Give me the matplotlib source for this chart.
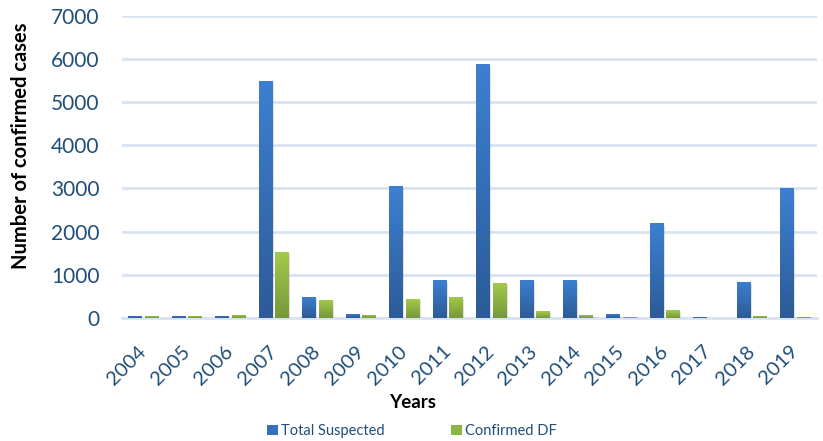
import matplotlib
matplotlib.use("Agg")
import matplotlib.pyplot as plt
import matplotlib.patheffects as pe
from matplotlib.colors import LinearSegmentedColormap
from matplotlib.patches import Patch
import numpy as np

years = ["2004", "2005", "2006", "2007", "2008", "2009", "2010", "2011",
         "2012", "2013", "2014", "2015", "2016", "2017", "2018", "2019"]
total_suspected = [50, 50, 50, 5500, 490, 100, 3050, 880,
                   5890, 880, 880, 95, 2190, 25, 840, 3000]
confirmed_df = [50, 50, 70, 1520, 420, 70, 440, 490,
                815, 160, 70, 25, 185, 0, 50, 25]

TXT = "#1F4E79"
GRID = "#D7E3F1"

plt.rcParams["font.family"] = ["Lato", "DejaVu Sans"]

fig = plt.figure(figsize=(8.23, 4.41), dpi=100)
ax = fig.add_axes([0.148, 0.279, 0.845, 0.685])

x = np.arange(len(years))
w = 0.32
off = 0.19

blue_cmap = LinearSegmentedColormap.from_list("b", ["#2C5B97", "#3D80D1"])
green_cmap = LinearSegmentedColormap.from_list("g", ["#76983A", "#A4CA4B"])
grad = np.linspace(0, 1, 256).reshape(-1, 1)

shadow = [pe.SimplePatchShadow(offset=(0.8, -1.5), shadow_rgbFace="#888888", alpha=0.25), pe.Normal()]

def gradient_bars(xs, vals, cmap, base):
    bars = ax.bar(xs, vals, width=w, color=base, zorder=3, linewidth=0)
    for b in bars:
        h = b.get_height()
        if h <= 0:
            continue
        b.set_path_effects(shadow)
        x0 = b.get_x()
        im = ax.imshow(grad, cmap=cmap, origin="lower", aspect="auto",
                       extent=[x0, x0 + b.get_width(), 0, h], zorder=4,
                       interpolation="bilinear")
        im.set_clip_path(b)
    return bars

gradient_bars(x - off, total_suspected, blue_cmap, "#3470C0")
gradient_bars(x + off, confirmed_df, green_cmap, "#8DB542")

ax.set_xlim(-0.5, len(years) - 0.5)
ax.set_ylim(0, 7000)
ax.set_yticks(np.arange(0, 7001, 1000))
ax.yaxis.grid(True, color=GRID, linewidth=2, zorder=0)
ax.set_axisbelow(True)
for s in ["top", "right", "left"]:
    ax.spines[s].set_visible(False)
ax.spines["bottom"].set_color(GRID)
ax.spines["bottom"].set_linewidth(2)

ax.tick_params(axis="y", length=0, pad=16, labelsize=15, labelcolor=TXT)
ax.tick_params(axis="x", length=0, pad=22, labelsize=14.5, labelcolor=TXT)
ax.set_xticks(x)
ax.set_xticklabels(years, rotation=45, ha="right", va="center",
                   rotation_mode="anchor")

fig.text(0.026, 1 - 146 / 441, "Number of confirmed cases", rotation=90,
         ha="center", va="center", fontsize=14.5, fontweight="bold")
fig.text(413 / 823, 1 - 402 / 441, "Years", ha="center", va="center",
         fontsize=13.5, fontweight="bold")

handles = [Patch(facecolor="#3470C0", label="Total Suspected"),
           Patch(facecolor="#8DB542", label="Confirmed DF")]
leg = fig.legend(handles=handles, loc="center", bbox_to_anchor=(412 / 823, 1 - 431 / 441),
                 ncol=2, frameon=False, fontsize=10.5, handlelength=0.75,
                 handleheight=0.75, handletextpad=0.2, columnspacing=4.6)
for t in leg.get_texts():
    t.set_color(TXT)

fig.savefig("out.png", dpi=100)
